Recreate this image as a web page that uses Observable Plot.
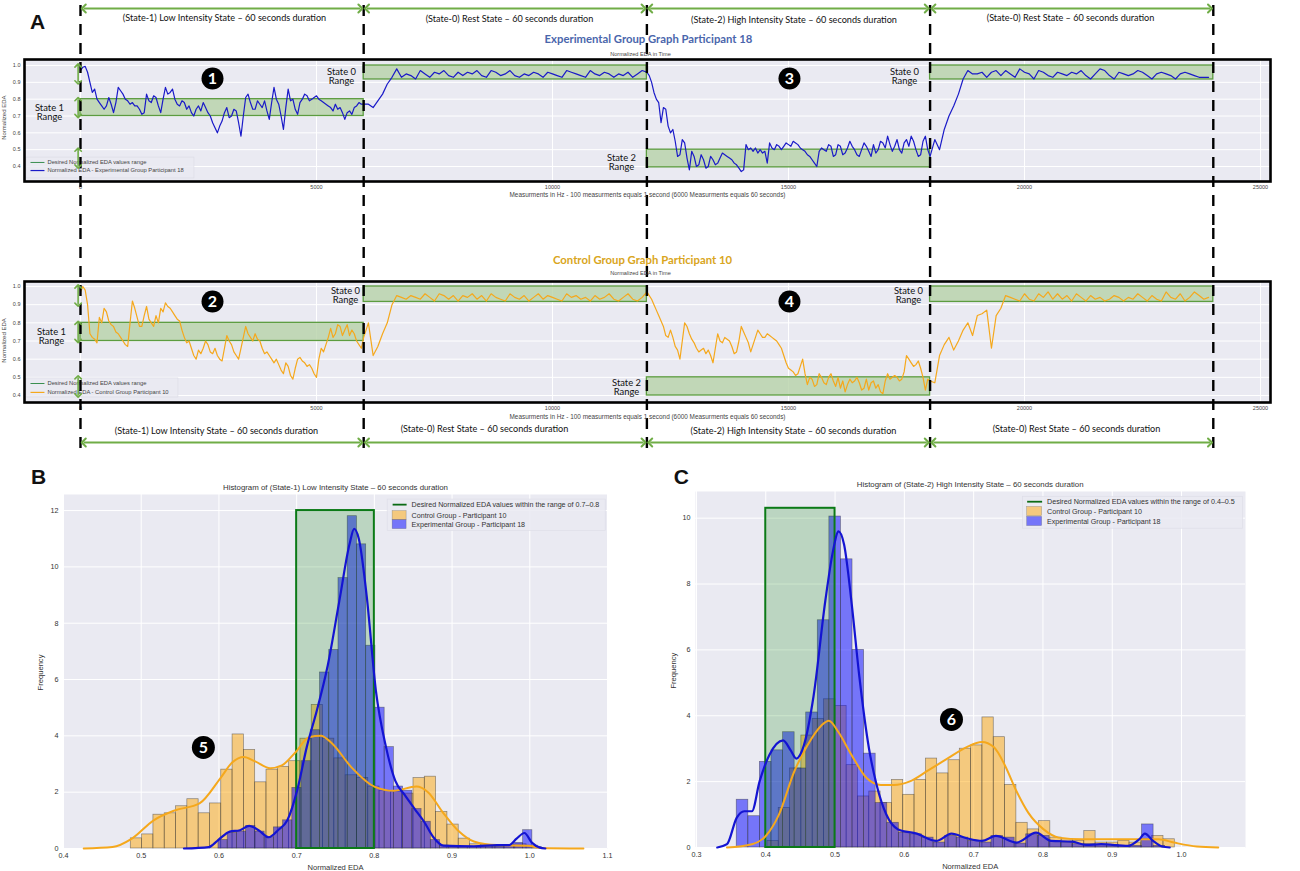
<!DOCTYPE html>
<html><head><meta charset="utf-8">
<script src="https://cdn.jsdelivr.net/npm/d3@7"></script>
<script src="https://cdn.jsdelivr.net/npm/@observablehq/plot@0.6"></script>
<style>
html,body{margin:0;padding:0;background:#fff;width:1300px;height:871px;overflow:hidden}
#root{position:relative;width:1300px;height:871px}
#root>svg{position:absolute;overflow:visible;background:transparent}
</style></head><body><div id="root"></div>
<script>
// ---------- time series: intensity states read every 50 measurements, rest states every 100 ----------
const expState1=[.97,.99,.995,.96,.90,.84,.86,.80,.78,.76,.74,.76,.81,.77,.72,.78,.87,.85,.83,.80,.79,.77,.78,.76,.76,.74,.71,.72,.83,.79,.78,.82,.81,.76,.72,.80,.87,.83,.84,.86,.80,.77,.76,.79,.78,.74,.76,.72,.70,.74,.76,.73,.78,.75,.72,.70,.66,.63,.60,.64,.67,.72,.75,.69,.70,.74,.73,.66,.58,.70,.81,.83,.78,.74,.74,.79,.77,.75,.79,.73,.68,.78,.87,.80,.77,.70,.62,.75,.86,.79,.80,.74,.71,.78,.80,.83,.82,.79,.80,.81,.82,.80,.79,.78,.77,.76,.75,.73,.77,.74,.75,.72,.68,.72,.73,.71,.75,.76,.78,.77];
const expRest1=[.77,.77,.75,.79,.83,.89,.93,.98,.93,.95,.94,.92,.97,.95,.93,.96,.95,.97,.94,.93,.96,.94,.96,.95,.97,.94,.93,.97,.96,.94,.95,.97,.94,.93,.95,.94,.96,.95,.93,.96,.95,.94,.93,.97,.96,.95,.94,.93,.97,.95,.94,.96,.95,.93,.95,.94,.96,.93,.95,.97];
const expState2=[.96,.94,.90,.84,.80,.78,.66,.75,.74,.64,.60,.62,.55,.46,.47,.56,.54,.45,.38,.49,.46,.40,.41,.47,.44,.39,.40,.46,.44,.41,.42,.45,.48,.47,.46,.45,.44,.42,.41,.39,.37,.38,.53,.50,.51,.49,.51,.48,.50,.48,.49,.42,.54,.51,.50,.53,.52,.50,.52,.54,.53,.52,.55,.54,.53,.51,.50,.49,.47,.46,.44,.42,.40,.49,.51,.50,.49,.53,.52,.46,.47,.53,.52,.47,.48,.51,.55,.52,.50,.47,.46,.50,.54,.52,.49,.46,.53,.48,.50,.55,.54,.51,.58,.53,.49,.52,.56,.50,.48,.54,.56,.52,.58,.55,.50,.46,.47,.55,.58,.50];
const expRest2=[.46,.56,.50,.62,.70,.76,.83,.92,.97,.95,.95,.96,.93,.96,.97,.94,.97,.95,.93,.98,.96,.95,.92,.97,.96,.94,.93,.96,.95,.94,.96,.95,.97,.94,.92,.95,.98,.97,.94,.92,.96,.95,.94,.95,.97,.96,.94,.92,.95,.96,.95,.94,.92,.95,.96,.95,.94,.93,.93,.93];
const ctlState1=[.97,1.0,.98,.90,.74,.72,.71,.69,.83,.80,.88,.86,.81,.79,.78,.75,.74,.72,.70,.68,.67,.80,.92,.88,.83,.78,.78,.84,.89,.82,.80,.78,.84,.80,.88,.86,.91,.89,.88,.86,.84,.82,.81,.76,.72,.69,.70,.66,.62,.60,.65,.63,.66,.70,.68,.64,.63,.66,.62,.60,.59,.66,.73,.70,.68,.64,.62,.60,.66,.72,.78,.74,.72,.70,.74,.71,.70,.66,.63,.64,.62,.60,.58,.60,.57,.54,.52,.58,.56,.51,.49,.55,.60,.61,.59,.58,.56,.57,.55,.52,.50,.60,.66,.64,.68,.72,.77,.72,.74,.79,.78,.73,.76,.79,.73,.76,.74,.70,.68,.66];
const ctlRest1=[.72,.80,.62,.67,.74,.80,.90,.95,.94,.93,.95,.94,.93,.96,.94,.92,.96,.95,.93,.95,.92,.95,.94,.96,.93,.95,.92,.96,.94,.93,.92,.96,.94,.93,.95,.92,.94,.96,.93,.95,.94,.93,.92,.96,.94,.95,.93,.94,.92,.95,.93,.94,.96,.93,.92,.94,.96,.93,.92,.94];
const ctlState2=[.97,.95,.93,.90,.87,.84,.81,.78,.73,.72,.76,.72,.67,.65,.60,.70,.80,.78,.74,.71,.69,.66,.64,.65,.66,.63,.65,.62,.58,.66,.74,.70,.69,.72,.71,.70,.67,.63,.64,.70,.78,.75,.72,.69,.64,.68,.72,.76,.74,.72,.72,.74,.73,.72,.71,.70,.68,.66,.62,.58,.55,.54,.53,.51,.52,.56,.60,.52,.46,.50,.49,.45,.46,.52,.50,.47,.46,.50,.52,.48,.45,.50,.44,.48,.42,.46,.49,.47,.48,.50,.47,.43,.44,.49,.43,.47,.48,.44,.46,.42,.41,.48,.52,.49,.50,.51,.50,.48,.49,.53,.62,.60,.58,.56,.57,.59,.55,.50,.43,.49];
const ctlRest2=[.48,.47,.62,.68,.72,.65,.70,.76,.80,.73,.84,.85,.87,.66,.84,.88,.95,.94,.93,.92,.96,.93,.92,.96,.94,.97,.93,.96,.93,.95,.92,.96,.94,.92,.95,.93,.94,.92,.93,.95,.94,.92,.94,.93,.96,.94,.92,.95,.93,.92,.97,.94,.93,.96,.92,.94,.97,.95,.93,.94];
const stateEdges=[0,6000,12000,18000,24000];
// ---------- desired ranges [x1,x2,y1,y2] ----------
const expRanges=[[0,6000,.7,.8],[6000,12000,.917,1],[12000,18000,.395,.5],[18000,24000,.917,1]];
const ctlRanges=[[0,6000,.7,.8],[6000,12000,.915,1],[12000,18000,.4,.5],[18000,24000,.915,1]];
const stateNames=["(State-1) Low Intensity State – 60 seconds duration","(State-0) Rest State – 60 seconds duration","(State-2) High Intensity State – 60 seconds duration","(State-0) Rest State – 60 seconds duration"];
// ---------- histogram B ----------
const bCtlStart=.4866,bCtlWidth=.01455;
const bCtlBars=[.36,.5,1.2,1.25,1.5,1.75,1.25,1.6,2.8,4.05,3.5,2.35,2.8,2.9,3.1,3.9,5.1,3.9,3.2,2.6,2.5,2.2,2.05,2.0,1.95,2.5,2.55,1.3,.85,.35,.15,.12,.1,.1,.15,.1];
const bExpStart=.5994,bExpWidth=.01188;
const bExpBars=[.3,.55,.6,.8,.6,.4,.75,1.0,2.15,3.1,4.2,6.25,7.05,9.6,11.8,10.8,7.2,5.0,3.6,2.2,2.05,1.4,.95,.3,.1,.08,.06,.06,.05,.05,.06,.12,.2,.65,.05];
const bCtlKdeX=[.426,.463,.488,.516,.543,.575,.602,.617,.632,.646,.666,.681,.698,.716,.731,.745,.770,.800,.825,.854,.869,.889,.909,.928,.958,.998,1.013,1.069];
const bCtlKdeY=[0,.05,.35,1.0,1.35,1.6,2.5,3.05,3.25,3.1,2.85,2.95,3.4,3.95,4.0,3.75,2.9,2.2,2.05,2.2,2.0,1.25,.6,.25,.12,.1,.02,0];
const bExpKdeX=[.555,.587,.599,.614,.627,.639,.651,.664,.676,.688,.701,.713,.726,.740,.755,.768,.774,.780,.790,.802,.815,.827,.839,.852,.864,.876,.889,.928,.958,.973,.983,.993,1.003,1.013,1.020];
const bExpKdeY=[0,.05,.3,.6,.65,.8,.65,.4,.65,1.0,2.1,3.6,4.9,6.5,8.8,10.8,11.35,11,9,5.6,3.6,2.4,1.9,1.4,.95,.4,.1,.08,.12,.12,.35,.55,.2,.03,0];
// ---------- histogram C ----------
const cCtlStart=.4024,cCtlWidth=.01633;
const cCtlBars=[.2,1.2,2.4,3.4,3.9,4.5,4.3,2.5,1.55,1.7,1.35,2.05,1.6,2.05,2.7,2.25,2.65,3.0,3.1,3.95,3.35,1.9,.75,.55,.8,.3,.25,.2,.5,.15,.15,.2,.15,.25,.35,.25];
const cExpStart=.3581,cExpWidth=.01671;
const cExpBars=[1.45,.95,2.6,2.95,3.5,2.4,4.1,6.9,10.05,8.75,6.0,2.85,1.35,.75,.45,.4,.3,.15,.35,.3,.2,.15,.35,.3,.12,.4,.35,.2,.15,.1,.1,.08,.08,.05,.05,.7,.05];
const cCtlKdeX=[.344,.380,.4,.419,.441,.460,.480,.491,.505,.524,.546,.566,.585,.607,.635,.662,.690,.712,.729,.745,.762,.779,.801,.823,.856,.884,.928,.967,.989,1.022,1.053];
const cCtlKdeY=[0,.1,.35,1.0,2.3,3.1,3.7,3.85,3.5,2.8,2.1,1.9,1.9,2.0,2.35,2.7,3.05,3.2,3.05,2.5,1.7,1.05,.55,.3,.25,.25,.25,.25,.15,.03,0];
const cExpKdeX=[.330,.344,.358,.369,.380,.391,.405,.425,.436,.444,.455,.469,.486,.497,.505,.513,.524,.535,.549,.560,.574,.591,.618,.646,.668,.690,.712,.732,.762,.790,.812,.842,.862,.884,.923,.939,.947,.959,.972,.983];
const cExpKdeY=[0,.1,.9,1.1,1.1,2.0,2.8,3.25,2.95,2.7,3.1,4.6,7.5,9.0,9.6,9.2,7.4,5.2,3.0,1.9,1.0,.55,.42,.2,.42,.28,.2,.35,.15,.45,.2,.18,.08,.1,.05,.25,.42,.2,.03,0];

const BODY="Liberation Sans, Arial, sans-serif", NOTE="Lato, 'Open Sans', sans-serif";
const GREEN="#70ad47", PANEL="#eaeaf2", BLUE="#1a1ac8", ORANGE="#f5a81c";
const root=document.getElementById("root");
function place(svg,left,top){svg.style.left=left+"px";svg.style.top=top+"px";root.appendChild(svg);}
const seriesRows=(parts)=>parts.flatMap((vals,p)=>vals.map((v,i)=>({x:stateEdges[p]+i*(stateEdges[p+1]-stateEdges[p])/vals.length,y:v})));
const pairs=(a,b)=>a.map((v,i)=>({x:v,y:b[i]}));
const bars=(h,s,w)=>h.map((v,i)=>({x1:s+i*w,x2:s+(i+1)*w,y:v}));

function timePanel(o){
  const spans=stateEdges.slice(0,-1).map((e,i)=>({x1:e,x2:stateEdges[i+1],name:stateNames[i],tx:o.textX[i],ty:o.textY[i]}));
  const marks=[
    Plot.frame({fill:PANEL,stroke:"none"}),
    Plot.gridX([0,5000,10000,15000,20000,25000],{stroke:"#fff",strokeOpacity:1,strokeWidth:1}),
    Plot.gridY([.4,.5,.6,.7,.8,.9,1],{stroke:"#fff",strokeOpacity:1,strokeWidth:1}),
    Plot.axisX({anchor:"bottom",ticks:[0,5000,10000,15000,20000,25000],tickFormat:d=>String(d),tickSize:0,tickPadding:4,label:null,fontSize:5.5,fill:"#444"}),
    Plot.axisY({anchor:"left",ticks:[.4,.5,.6,.7,.8,.9,1],tickFormat:".1f",tickSize:0,tickPadding:4,label:null,fontSize:5.5,fill:"#444"}),
    Plot.rect(o.ranges,{x1:d=>d[0],x2:d=>d[1],y1:d=>d[2],y2:d=>d[3],fill:"#b7d2a8",fillOpacity:.8,stroke:"#5c9c40",strokeWidth:1.3}),
    Plot.line(o.rows,{x:"x",y:"y",stroke:o.color,strokeWidth:1.2,curve:"linear"}),
    Plot.rect([0],{x1:-1144,x2:o.legendRight,y1:o.legendBottom,y2:o.legendTop,fill:PANEL,fillOpacity:.85,stroke:"#d8d8e2",strokeWidth:.5}),
    Plot.link([0],{x1:-1059,x2:-763,y1:o.leg1,y2:o.leg1,stroke:"#3b8f50",strokeWidth:1}),
    Plot.link([0],{x1:-1059,x2:-763,y1:o.leg2,y2:o.leg2,stroke:o.color,strokeWidth:1.2}),
    Plot.text(["Desired Normalized EDA values range"],{x:-700,y:o.leg1,textAnchor:"start",fontSize:5.8,fill:"#444",fontFamily:BODY}),
    Plot.text([o.legendText],{x:-700,y:o.leg2,textAnchor:"start",fontSize:5.8,fill:"#444",fontFamily:BODY}),
    Plot.frame({stroke:"#000",strokeWidth:2.6}),
    Plot.ruleX(stateEdges,{y1:o.dashTop,y2:o.dashBottom,stroke:"#000",strokeWidth:2.4,strokeDasharray:"11,8"}),
    Plot.link(spans,{x1:d=>d.x1+70,x2:d=>d.x2-70,y1:o.arrowY,y2:o.arrowY,stroke:GREEN,strokeWidth:2,markerStart:"arrow-reverse",markerEnd:"arrow"}),
    Plot.link(o.tinyArrows,{x1:-50,x2:-50,y1:d=>d[0],y2:d=>d[1],stroke:GREEN,strokeWidth:1.6,markerStart:"arrow-reverse",markerEnd:"arrow"}),
    Plot.text(spans,{x:"tx",y:"ty",text:"name",fontSize:9.1,fill:"#111",fontFamily:NOTE}),
    Plot.text([o.title],{x:o.titleX,y:o.titleY,fontSize:11.3,fontWeight:"bold",fill:o.titleColor,fontFamily:NOTE}),
    Plot.text(["Normalized EDA in Time"],{x:11864,y:o.subY,fontSize:5.6,fill:"#444",fontFamily:BODY}),
    Plot.text(["Measurments in Hz - 100 measurments equals 1 second (6000 Measurments equals 60 seconds)"],{x:12013,y:o.xlabelY,fontSize:6.4,fill:"#444",fontFamily:BODY}),
    Plot.text(["Normalized EDA"],{x:-1610,y:o.ylabelY,rotate:-90,fontSize:6,fill:"#444",fontFamily:BODY}),
    Plot.text(o.stateLabels,{x:d=>d[0],y:d=>d[1],text:d=>d[2],fontSize:9.4,lineHeight:1.0,fill:"#111",fontFamily:NOTE}),
    Plot.dot(o.badges,{x:d=>d[0],y:d=>d[1],r:11,fill:"#000"}),
    Plot.text(o.badges,{x:d=>d[0],y:d=>d[1],text:d=>d[2],fontSize:16,fontWeight:"bold",fill:"#fff",fontFamily:NOTE}),
    ...(o.extra||[])
  ];
  return Plot.plot({width:1300,height:o.height,marginLeft:24,marginRight:30,marginTop:o.mt,marginBottom:o.mb,
    x:{domain:[-1186,25212]},y:{domain:o.yDomain},style:{fontFamily:BODY,background:"transparent",overflow:"visible"},marks});
}

place(timePanel({height:228,mt:59,mb:47,yDomain:[.3109,1.0357],rows:seriesRows([expState1,expRest1,expState2,expRest2]),color:BLUE,ranges:expRanges,
  textX:[3051,9089,15117,20975],textY:[1.279,1.273,1.267,1.279],arrowY:1.339,dashTop:1.356,dashBottom:.0315,
  title:"Experimental Group Graph Participant 18",titleX:12034,titleY:1.1545,titleColor:"#4a66ac",subY:1.065,xlabelY:.2336,ylabelY:.69,
  legendText:"Normalized EDA - Experimental Group Participant 18",legendRight:2415,legendBottom:.329,legendTop:.453,leg1:.424,leg2:.376,
  stateLabels:[[-657,.72,"State 1\nRange"],[5530,.935,"State 0\nRange"],[11462,.424,"State 2\nRange"],[17458,.935,"State 0\nRange"]],
  badges:[[2797,.923,"1"],[15021,.923,"3"]],tinyArrows:[[1.0,.9],[.8,.7],[.5,.4]],
  extra:[Plot.text(["A"],{x:-911,y:1.2555,fontSize:21,fontWeight:"bold",fill:"#111",fontFamily:BODY})]}),0,0);

place(timePanel({height:232,mt:53,mb:58,yDomain:[.3615,1.0275],rows:seriesRows([ctlState1,ctlRest1,ctlState2,ctlRest2]),color:ORANGE,ranges:ctlRanges,
  textX:[2881,8559,15106,21102],textY:[.202,.213,.202,.213],arrowY:.141,dashTop:1.319,dashBottom:.086,
  title:"Control Group Graph Participant 10",titleX:11907,titleY:1.143,titleColor:"#d9a520",subY:1.0716,xlabelY:.2844,ylabelY:.703,
  legendText:"Normalized EDA - Control Group Participant 10",legendRight:2076,legendBottom:.389,legendTop:.494,leg1:.466,leg2:.417,
  stateLabels:[[-614,.725,"State 1\nRange"],[5614,.95,"State 0\nRange"],[11568,.444,"State 2\nRange"],[17542,.95,"State 0\nRange"]],
  badges:[[2797,.917,"2"],[15021,.917,"4"]],tinyArrows:[[1.0,.9],[.8,.7],[.5,.4]]}),0,228);

function histPanel(o){
  const cols={ctl:bars(o.ctlBars,o.ctlStart,o.ctlWidth),exp:bars(o.expBars,o.expStart,o.expWidth)};
  const bar=(d,fill,op)=>Plot.rect(d,{x1:"x1",x2:"x2",y1:0,y2:"y",fill,fillOpacity:op,stroke:"#333",strokeOpacity:.55,strokeWidth:.7});
  const rows=o.legendRows;
  const marks=[
    Plot.frame({fill:PANEL,stroke:"none"}),
    Plot.gridX(o.xTicks,{stroke:"#fff",strokeOpacity:1,strokeWidth:1}),
    Plot.gridY(o.yTicks,{stroke:"#fff",strokeOpacity:1,strokeWidth:1}),
    Plot.axisX({anchor:"bottom",ticks:o.xTicks,tickFormat:".1f",tickSize:0,tickPadding:4,label:null,fontSize:7.2,fill:"#333"}),
    Plot.axisY({anchor:"left",ticks:o.yTicks,tickFormat:d=>String(d),tickSize:0,tickPadding:5,label:null,fontSize:7.2,fill:"#333"}),
    bar(cols.ctl,"#ffa500",.48),
    bar(cols.exp,"#0000ff",.5),
    Plot.rect([o.band],{x1:d=>d[0],x2:d=>d[1],y1:0,y2:d=>d[2],fill:"#008000",fillOpacity:.2,stroke:"#0b7a17",strokeWidth:2}),
    Plot.line(pairs(o.ctlKdeX,o.ctlKdeY),{x:"x",y:"y",stroke:ORANGE,strokeWidth:2,curve:"monotone-x"}),
    Plot.line(pairs(o.expKdeX,o.expKdeY),{x:"x",y:"y",stroke:"#1414d2",strokeWidth:2.2,curve:"monotone-x"}),
    Plot.rect([0],{x1:o.lb[0],x2:o.lb[1],y1:o.lb[2],y2:o.lb[3],fill:PANEL,fillOpacity:.85,stroke:"#dcdce6",strokeWidth:.6}),
    Plot.link([0],{x1:o.sw[0],x2:o.sw[1],y1:rows[0],y2:rows[0],stroke:"#0b6b14",strokeWidth:1.8}),
    Plot.rect([rows[1]],{x1:o.sw[0],x2:o.sw[1],y1:d=>d-o.swH,y2:d=>d+o.swH,fill:"#ffa500",fillOpacity:.48,stroke:"#555",strokeOpacity:.5,strokeWidth:.5}),
    Plot.rect([rows[2]],{x1:o.sw[0],x2:o.sw[1],y1:d=>d-o.swH,y2:d=>d+o.swH,fill:"#0000ff",fillOpacity:.5,stroke:"#555",strokeOpacity:.5,strokeWidth:.5}),
    Plot.text(o.legendText,{x:o.tx,y:(d,i)=>rows[i],textAnchor:"start",fontSize:7.15,fill:"#333",fontFamily:BODY}),
    Plot.text([o.title],{x:o.titleAt[0],y:o.titleAt[1],fontSize:7.85,fill:"#333",fontFamily:BODY}),
    Plot.text(["Normalized EDA"],{x:o.xlab[0],y:o.xlab[1],fontSize:7.6,fill:"#333",fontFamily:BODY}),
    Plot.text(["Frequency"],{x:o.ylab[0],y:o.ylab[1],rotate:-90,fontSize:7.6,fill:"#333",fontFamily:BODY}),
    Plot.dot([o.badge],{x:d=>d[0],y:d=>d[1],r:11.5,fill:"#000"}),
    Plot.text([o.badge],{x:d=>d[0],y:d=>d[1],text:d=>d[2],fontSize:16,fontWeight:"bold",fill:"#fff",fontFamily:NOTE}),
    Plot.text([o.letter],{x:d=>d[0],y:d=>d[1],text:d=>d[2],fontSize:21,fontWeight:"bold",fill:"#111",fontFamily:BODY})
  ];
  return Plot.plot({width:650,height:411,marginLeft:o.ml,marginRight:o.mr,marginTop:o.mt,marginBottom:o.mb,
    x:{domain:o.xDomain},y:{domain:o.yDomain},style:{fontFamily:BODY,background:"transparent",overflow:"visible"},marks});
}
place(histPanel({ml:63,mr:43,mt:34,mb:23,xDomain:[.4,1.1],yDomain:[0,12.57],
  xTicks:[.4,.5,.6,.7,.8,.9,1,1.1],yTicks:[0,2,4,6,8,10,12],
  ctlBars:bCtlBars,ctlStart:bCtlStart,ctlWidth:bCtlWidth,expBars:bExpBars,expStart:bExpStart,expWidth:bExpWidth,
  ctlKdeX:bCtlKdeX,ctlKdeY:bCtlKdeY,expKdeX:bExpKdeX,expKdeY:bExpKdeY,band:[.7,.8,12],
  lb:[.8171,1.0977,11.27,12.39],sw:[.8235,.8415],swH:.16,tx:.8479,legendRows:[12.21,11.82,11.5],
  legendText:["Desired Normalized EDA values within the range of 0.7–0.8","Control Group - Participant 10","Experimental Group - Participant 18"],
  title:"Histogram of (State-1) Low Intensity State – 60 seconds duration",titleAt:[.75,12.82],xlab:[.75,-.67],ylab:[.370,6.25],
  badge:[.580,3.59,"5"],letter:[.368,13.17,"B"]}),0,460);
place(histPanel({ml:45,mr:55,mt:31,mb:24,xDomain:[.2986,1.0923],yDomain:[0,10.81],
  xTicks:[.3,.4,.5,.6,.7,.8,.9,1],yTicks:[0,2,4,6,8,10],
  ctlBars:cCtlBars,ctlStart:cCtlStart,ctlWidth:cCtlWidth,expBars:cExpBars,expStart:cExpStart,expWidth:cExpWidth,
  ctlKdeX:cCtlKdeX,ctlKdeY:cCtlKdeY,expKdeX:cExpKdeX,expKdeY:cExpKdeY,band:[.4,.5,10.3],
  lb:[.7714,1.0889,9.68,10.65],sw:[.7772,.7988],swH:.14,tx:.8059,legendRows:[10.5,10.2,9.9],
  legendText:["Desired Normalized EDA values within the range of 0.4–0.5","Control Group - Participant 10","Experimental Group - Participant 18"],
  title:"Histogram of (State-2) High Intensity State – 60 seconds duration",titleAt:[.695,11.02],xlab:[.695,-.58],ylab:[.267,5.37],
  badge:[.668,3.89,"6"],letter:[.278,11.24,"C"]}),650,460);
</script></body></html>
